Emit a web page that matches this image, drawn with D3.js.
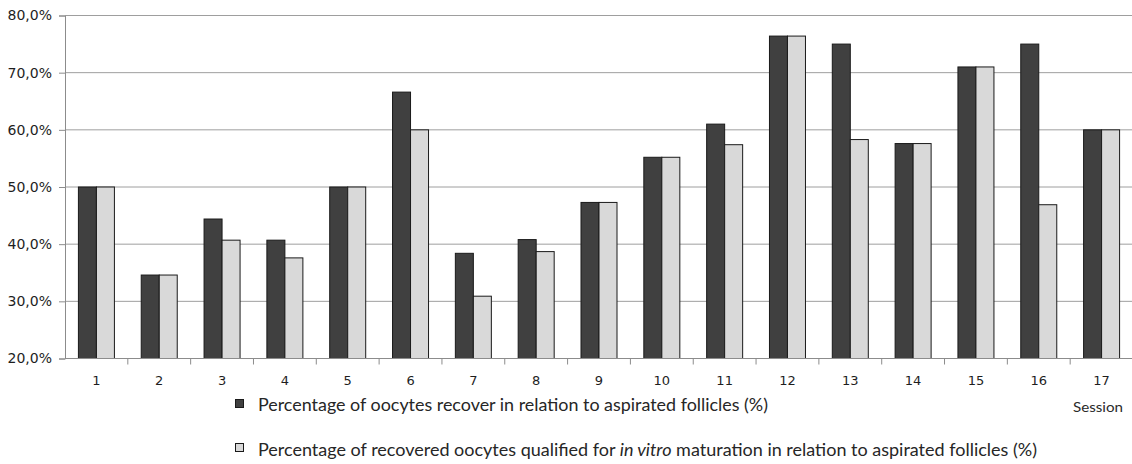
<!DOCTYPE html>
<html>
<head>
<meta charset="utf-8">
<script src="https://cdn.jsdelivr.net/npm/d3@7/dist/d3.min.js"></script>
<style>
  html, body { margin: 0; padding: 0; background: #fff; }
  svg { display: block; }
</style>
</head>
<body>
<svg id="chart" width="1132" height="464"></svg>
<script>
// Sessions and the two percentages per session
const sessions = ["1","2","3","4","5","6","7","8","9","10","11","12","13","14","15","16","17"];
const recovered = [50.0, 34.6, 44.4, 40.7, 50.0, 66.6, 38.4, 40.8, 47.3, 55.2, 61.0, 76.4, 75.0, 57.6, 71.0, 75.0, 60.0];
const qualified = [50.0, 34.6, 40.7, 37.6, 50.0, 60.0, 30.9, 38.7, 47.3, 55.2, 57.4, 76.4, 58.3, 57.6, 71.0, 46.9, 60.0];
const yTicks = [20, 30, 40, 50, 60, 70, 80];
const seriesKeys = ["recovered", "qualified"];
const seriesColors = { recovered: "#404040", qualified: "#d9d9d9" };

const svg = d3.select("#chart");
const plotLeft = 65, plotRight = 1133, plotTop = 15.5, plotBottom = 358.5;

const x0 = d3.scaleBand().domain(sessions).range([plotLeft, plotRight]).padding(0);
const x1 = d3.scaleBand().domain(seriesKeys).range([0, x0.bandwidth()])
  .paddingInner(0).paddingOuter(0.745);
const y = d3.scaleLinear().domain([20, 80]).range([plotBottom, plotTop]);

const locale = d3.formatLocale({ decimal: ",", thousands: ".", grouping: [3], currency: ["", ""] });
const pct = v => locale.format(".1f")(v) + "%";

// horizontal gridlines
svg.append("g")
  .selectAll("line")
  .data(yTicks.filter(t => t > 20))
  .join("line")
  .attr("x1", plotLeft).attr("x2", plotRight)
  .attr("y1", d => y(d)).attr("y2", d => y(d))
  .attr("stroke", "#9e9e9e").attr("stroke-width", 1);

// y axis
const yAxis = svg.append("g")
  .attr("transform", `translate(${plotLeft},0)`)
  .call(d3.axisLeft(y).tickValues(yTicks).tickFormat(pct).tickSize(6).tickPadding(7));
yAxis.select(".domain").attr("stroke", "#8c8c8c");
yAxis.selectAll(".tick line").attr("stroke", "#8c8c8c");
yAxis.selectAll(".tick text")
  .attr("font-family", "DejaVu Sans, Verdana, sans-serif")
  .attr("font-size", 14)
  .attr("fill", "#1e1e1e");

// bars
const rows = sessions.map((s, i) => ({ session: s, recovered: recovered[i], qualified: qualified[i] }));
svg.append("g")
  .selectAll("g")
  .data(rows)
  .join("g")
  .attr("transform", d => `translate(${x0(d.session)},0)`)
  .selectAll("rect")
  .data(d => seriesKeys.map(k => ({ key: k, value: d[k] })))
  .join("rect")
  .attr("x", d => x1(d.key))
  .attr("width", x1.bandwidth())
  .attr("y", d => y(d.value))
  .attr("height", d => y(20) - y(d.value))
  .attr("fill", d => seriesColors[d.key])
  .attr("stroke", "#1a1a1a")
  .attr("stroke-width", 1);

// x axis with ticks on category boundaries
const xg = svg.append("g");
xg.append("line")
  .attr("x1", plotLeft).attr("x2", plotRight)
  .attr("y1", plotBottom).attr("y2", plotBottom)
  .attr("stroke", "#8c8c8c");
xg.selectAll("line.tk")
  .data(sessions.slice(1))
  .join("line")
  .attr("class", "tk")
  .attr("x1", d => x0(d)).attr("x2", d => x0(d))
  .attr("y1", plotBottom).attr("y2", plotBottom + 6)
  .attr("stroke", "#8c8c8c");
xg.selectAll("text")
  .data(sessions)
  .join("text")
  .attr("x", d => x0(d) + x0.bandwidth() / 2)
  .attr("y", 385)
  .attr("text-anchor", "middle")
  .attr("font-family", "DejaVu Sans, Verdana, sans-serif")
  .attr("font-size", 13)
  .attr("fill", "#1e1e1e")
  .text(d => d);

// axis title
svg.append("text")
  .attr("x", 1073).attr("y", 412)
  .attr("font-family", "Lato, 'Open Sans', sans-serif")
  .attr("font-size", 14)
  .attr("fill", "#2a2a2a")
  .attr("textLength", 50).attr("lengthAdjust", "spacingAndGlyphs")
  .text("Session");

// legend
const legend = svg.append("g");
legend.append("rect")
  .attr("x", 235.5).attr("y", 399.5).attr("width", 8).attr("height", 8)
  .attr("fill", seriesColors.recovered).attr("stroke", "#1a1a1a");
legend.append("text")
  .attr("x", 258).attr("y", 411)
  .attr("font-family", "Lato, 'Open Sans', sans-serif")
  .attr("font-size", 17)
  .attr("fill", "#262626")
  .attr("textLength", 510).attr("lengthAdjust", "spacingAndGlyphs")
  .text("Percentage of oocytes recover in relation to aspirated follicles (%)");

legend.append("rect")
  .attr("x", 235.5).attr("y", 443.5).attr("width", 8).attr("height", 8)
  .attr("fill", seriesColors.qualified).attr("stroke", "#1a1a1a");
const l2 = legend.append("text")
  .attr("x", 258).attr("y", 456)
  .attr("font-family", "Lato, 'Open Sans', sans-serif")
  .attr("font-size", 17)
  .attr("fill", "#262626")
  .attr("textLength", 779).attr("lengthAdjust", "spacingAndGlyphs");
l2.append("tspan").text("Percentage of recovered oocytes qualified for ");
l2.append("tspan").attr("font-style", "italic").text("in vitro");
l2.append("tspan").text(" maturation in relation to aspirated follicles (%)");
</script>
</body>
</html>
